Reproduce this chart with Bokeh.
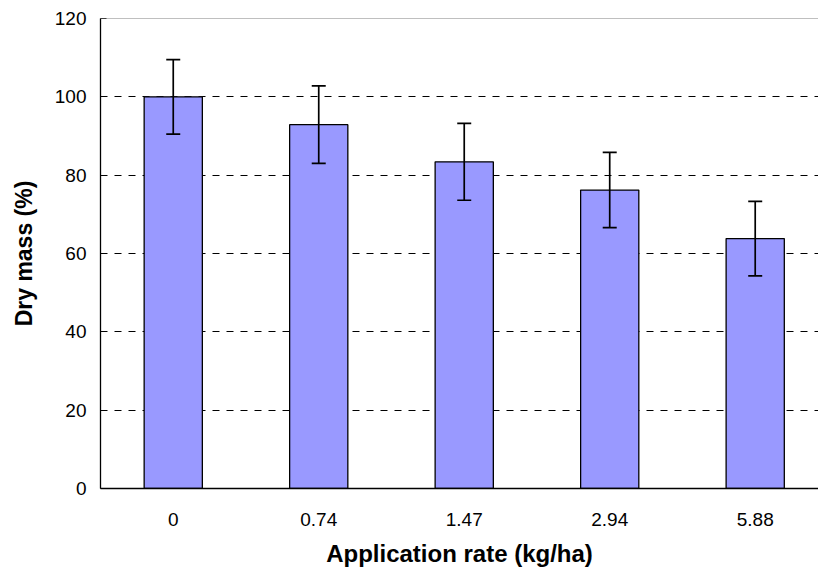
from bokeh.plotting import figure
from bokeh.models import ColumnDataSource, Whisker, TeeHead, FixedTicker, Span, Range1d
from bokeh.embed import file_html
from bokeh.resources import INLINE

# Data
categories = ["0", "0.74", "1.47", "2.94", "5.88"]
dry_mass = [100.0, 92.9, 83.4, 76.2, 63.8]
errors = [9.5, 9.9, 9.8, 9.6, 9.5]
y_ticks = [0, 20, 40, 60, 80, 100, 120]

xpos = [i + 0.5 for i in range(len(categories))]
src = ColumnDataSource(dict(
    x=xpos,
    top=dry_mass,
    upper=[m + e for m, e in zip(dry_mass, errors)],
    lower=[m - e for m, e in zip(dry_mass, errors)],
))

FONT = "Liberation Sans"

p = figure(
    output_backend="svg", toolbar_location=None,
    frame_width=718, frame_height=470,
    min_border_left=100, min_border_right=0, min_border_top=18, min_border_bottom=85,
    x_range=Range1d(0, 4.935), y_range=Range1d(0, 120),
)
p.outline_line_color = None
p.background_fill_color = "white"
p.border_fill_color = "white"

# grid
p.xgrid.grid_line_color = None
p.ygrid.ticker = FixedTicker(ticks=y_ticks)
p.ygrid.grid_line_color = "#000000"
p.ygrid.grid_line_dash = "7 7"
p.ygrid.grid_line_width = 1

top_line = Span(location=p.y_range.end, dimension="width", line_color="#808080", line_width=1)
p.add_layout(top_line)

p.vbar(x="x", top="top", width=0.4, bottom=0, source=src,
       fill_color="#9999FF", line_color="#000000", line_width=1.3)

p.add_layout(Whisker(source=src, base="x", upper="upper", lower="lower", level="overlay",
                     line_color="#000000", line_width=1.7,
                     upper_head=TeeHead(size=14, line_color="#000000", line_width=1.7),
                     lower_head=TeeHead(size=14, line_color="#000000", line_width=1.7)))

# x axis
p.xaxis.ticker = FixedTicker(ticks=xpos)
p.xaxis.major_label_overrides = {x: c for x, c in zip(xpos, categories)}
p.xaxis.major_tick_out = 0
p.xaxis.major_tick_in = 0
p.xaxis.minor_tick_line_color = None
p.xaxis.axis_line_color = "#000000"
p.xaxis.axis_line_width = 1.3
p.xaxis.major_label_standoff = 24
p.xaxis.major_label_text_font = FONT
p.xaxis.major_label_text_font_size = "19px"
p.xaxis.major_label_text_color = "#000000"
p.xaxis.axis_label = "Application rate (kg/ha)"
p.xaxis.axis_label_text_font = FONT
p.xaxis.axis_label_text_font_size = "24px"
p.xaxis.axis_label_text_font_style = "bold"
p.xaxis.axis_label_text_color = "#000000"
p.xaxis.axis_label_standoff = 11

# y axis
p.yaxis.ticker = FixedTicker(ticks=y_ticks)
p.yaxis.major_tick_out = 0
p.yaxis.major_tick_in = 6
p.yaxis.major_tick_line_color = "#000000"
p.yaxis.minor_tick_line_color = None
p.yaxis.axis_line_color = "#000000"
p.yaxis.axis_line_width = 1.3
p.yaxis.major_label_standoff = 14
p.yaxis.major_label_text_font = FONT
p.yaxis.major_label_text_font_size = "19px"
p.yaxis.major_label_text_color = "#000000"
p.yaxis.axis_label = "Dry mass (%)"
p.yaxis.axis_label_text_font = FONT
p.yaxis.axis_label_text_font_size = "23px"
p.yaxis.axis_label_text_font_style = "bold"
p.yaxis.axis_label_text_color = "#000000"
p.yaxis.axis_label_standoff = 15

open("out.html", "w").write(file_html(p, INLINE))
